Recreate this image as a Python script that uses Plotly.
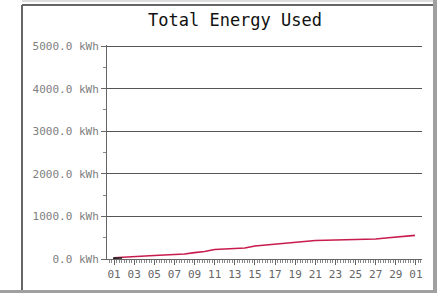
import plotly.graph_objects as go

# Data (cumulative kWh per day)
days = [1, 2, 3, 4, 5, 6, 7, 8, 9, 10, 11, 12, 13, 14, 15, 16, 17, 18, 19, 20,
        21, 22, 23, 24, 25, 26, 27, 28, 29, 30, 30.9]
energy = [30, 47, 59, 70, 82, 94, 106, 117, 150, 176, 223, 235, 246, 258, 305, 329,
          352, 376, 399, 423, 434, 440, 446, 450, 458, 462, 470, 493, 516, 535, 555]
start_days = [0.9, 1.8]
start_vals = [20, 22]
tick_days = [1, 3, 5, 7, 9, 11, 13, 15, 17, 19, 21, 23, 25, 27, 29, 31]
tick_labels = ["01", "03", "05", "07", "09", "11", "13", "15", "17", "19", "21",
               "23", "25", "27", "29", "01"]
y_ticks = [0, 1000, 2000, 3000, 4000, 5000]
y_labels = [f"{v:.1f} kWh" for v in y_ticks]

W, H = 437, 293
L, R, T, B = 107, 422, 46, 259

fig = go.Figure()
fig.add_trace(go.Scatter(x=days, y=energy, mode="lines",
                         line=dict(color="#c81c4c", width=1.6), hoverinfo="skip"))
fig.add_trace(go.Scatter(x=start_days, y=start_vals, mode="lines",
                         line=dict(color="#222222", width=1.6), hoverinfo="skip"))

fig.update_layout(
    width=W, height=H,
    margin=dict(l=L, r=W - R, t=T - 1, b=H - B),
    paper_bgcolor="white", plot_bgcolor="white",
    showlegend=False,
    title=dict(text="Total Energy Used", x=235 / W, xanchor="center",
               y=1 - 20 / H, yanchor="middle",
               font=dict(family="DejaVu Sans Mono", size=17, color="#111111")),
    font=dict(family="DejaVu Sans Mono", size=9, color="#555555"),
)
fig.update_xaxes(range=[0.3, 31.6], tickvals=tick_days, ticktext=tick_labels,
                 showgrid=False, zeroline=False, showline=True, linecolor="#666666",
                 ticks="outside", ticklen=5, tickcolor="#666666",
                 tickfont=dict(family="DejaVu Sans Mono", size=11, color="#666666"),
                 minor=dict(dtick=0.25, tick0=0, ticks="outside", ticklen=3, tickcolor="#888888"))
fig.update_yaxes(range=[0, 5025], tickvals=y_ticks, ticktext=y_labels,
                 showgrid=True, gridcolor="#555555", gridwidth=1,
                 zeroline=False, showline=True, linecolor="#666666",
                 ticks="outside", ticklen=5, tickcolor="#666666",
                 tickfont=dict(family="DejaVu Sans Mono", size=11, color="#808080"),
                 minor=dict(dtick=500, ticks="outside", ticklen=3, tickcolor="#888888"))


def px_x(p):
    return (p - L) / (R - L)


def px_y(p):
    return (B - p) / (B - T + 1)


# Frame around the chart (page border)
shapes = [
    dict(type="line", xref="paper", yref="paper", x0=px_x(22), x1=px_x(433),
         y0=px_y(5), y1=px_y(5), line=dict(color="#666666", width=2)),
    dict(type="line", xref="paper", yref="paper", x0=px_x(22), x1=px_x(433),
         y0=px_y(1), y1=px_y(1), line=dict(color="#bbbbbb", width=1)),
    dict(type="line", xref="paper", yref="paper", x0=px_x(22), x1=px_x(22),
         y0=px_y(5), y1=px_y(293), line=dict(color="#666666", width=2)),
    dict(type="rect", xref="paper", yref="paper", x0=px_x(433), x1=px_x(438),
         y0=px_y(-1), y1=px_y(294), fillcolor="#a0a0a0", line=dict(width=0)),
    dict(type="rect", xref="paper", yref="paper", x0=px_x(0), x1=px_x(438),
         y0=px_y(290), y1=px_y(294), fillcolor="#a0a0a0", line=dict(width=0)),
]
fig.update_layout(shapes=shapes)

fig.write_html("out.html", config={"displayModeBar": False},
               post_script="document.body.style.margin='0px';")
